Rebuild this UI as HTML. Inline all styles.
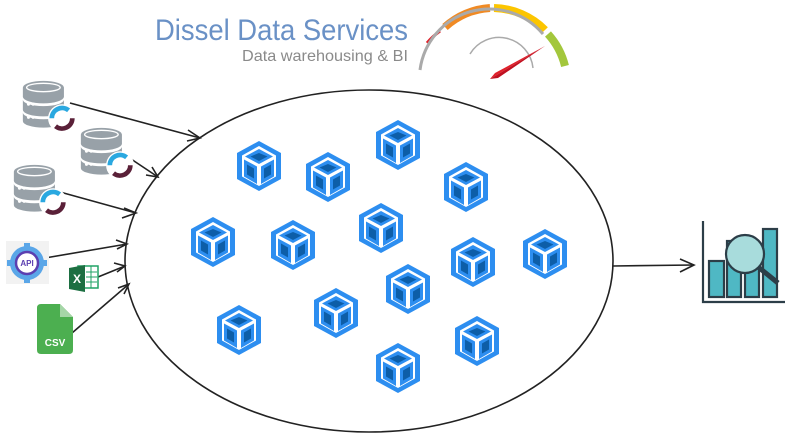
<!DOCTYPE html>
<html><head><meta charset="utf-8"><style>
html,body{margin:0;padding:0;background:#fff;width:799px;height:440px;overflow:hidden}
svg{display:block}
</style></head><body>
<svg width="799" height="440" viewBox="0 0 799 440" xmlns="http://www.w3.org/2000/svg">
<defs>
<symbol id="cube" viewBox="-24 -26 48 52" overflow="visible">
<polygon points="0,-25 22,-13 22,13 0,25 -22,13 -22,-13" fill="#2d8ef0"/>
<polygon points="0,-20 17,-10.5 17,10.5 0,20 -17,10.5 -17,-10.5" fill="#fff"/>
<polygon points="0,-17 14,-9.5 0,-2 -14,-9.5" fill="#2d8ef0"/>
<polygon points="0,-13 8.5,-9.5 0,-5 -8.5,-9.5" fill="#0d5ea8"/>
<polygon points="-15,-6.5 -2,0.5 -2,18 -15,10.5" fill="#2d8ef0"/>
<polygon points="-12,-1.5 -5,2.5 -5,12.5 -12,8.5" fill="#0d5ea8"/>
<polygon points="15,-6.5 2,0.5 2,18 15,10.5" fill="#2d8ef0"/>
<polygon points="12,-1.5 5,2.5 5,12.5 12,8.5" fill="#0d5ea8"/>
</symbol>
<symbol id="db" viewBox="0 0 60 60" overflow="visible">
<path d="M2,8 a22,7 0 0 1 44,0 v10 a22,7 0 0 1 -44,0z" fill="#98a1a8"/>
<ellipse cx="24" cy="8" rx="18" ry="4.5" fill="none" stroke="#fff" stroke-width="1.5"/>
<path d="M2,21 a22,7 0 0 0 44,0 v11 a22,7 0 0 1 -44,0z" fill="#98a1a8"/>
<path d="M2,35 a22,7 0 0 0 44,0 v9 a22,7 0 0 1 -44,0z" fill="#98a1a8"/>
<circle cx="8" cy="26" r="1.6" fill="#fff"/><circle cx="13" cy="26" r="1.6" fill="#fff"/>
<circle cx="8" cy="40" r="1.6" fill="#fff"/><circle cx="13" cy="40" r="1.6" fill="#fff"/>
<circle cx="44" cy="41" r="15" fill="#fff"/>
<path d="M33,41 a11,11 0 0 1 18,-8.5" fill="none" stroke="#2aa8e0" stroke-width="5"/>
<path d="M55,41 a11,11 0 0 1 -18,8.5" fill="none" stroke="#5a2038" stroke-width="5"/>
</symbol>
</defs>

<text x="155" y="40" font-family="'Liberation Sans Narrow','Liberation Sans',sans-serif" font-size="30" fill="#6a91c6" textLength="253" lengthAdjust="spacingAndGlyphs">Dissel Data Services</text>
<text x="242" y="61" font-family="'Liberation Sans Narrow','Liberation Sans',sans-serif" font-size="16" fill="#8a8a8a" textLength="166" lengthAdjust="spacingAndGlyphs">Data warehousing &amp; BI</text>

<g fill="none">
<path d="M427,43 A74,74 0 0 1 440,31" stroke="#e0202a" stroke-width="3"/>
<path d="M445,27 A74,74 0 0 1 490,8" stroke="#f08a24" stroke-width="8"/>
<path d="M494,8 A74,74 0 0 1 545,30" stroke="#fcc500" stroke-width="8"/>
<path d="M548,34 A74,74 0 0 1 565,66" stroke="#a3c73c" stroke-width="8"/>
<path d="M420,70 A70,70 0 0 1 543,34" stroke="#aaa" stroke-width="3"/>
<path d="M470,54 A34,34 0 0 1 533,68" stroke="#aaa" stroke-width="1.5"/>
</g>
<polygon points="490,79 495,73 545,46" fill="#e0202a"/>
<polygon points="490,79 498,78 545,46" fill="#c01020"/>

<ellipse cx="369" cy="261" rx="244" ry="171" fill="none" stroke="#222" stroke-width="1.6"/>

<g stroke="#222" stroke-width="1.6" fill="none">
<path d="M70,103 L200,138"/><path d="M188,130 L200,138 L187,141"/>
<path d="M125,155 L158,177"/><path d="M146,175 L158,177 L152,167"/>
<path d="M60,192 L136,213"/><path d="M124,208 L136,213 L122,218"/>
<path d="M45,258 L127,244"/><path d="M116,240 L127,244 L117,249"/>
<path d="M98,277 L125,266"/><path d="M114,263 L125,266 L117,272"/>
<path d="M72,333 L129,284"/><path d="M118,288 L129,284 L124,294"/>
<path d="M613,266 L694,265"/><path d="M680,259 L694,265 L680,272"/>
</g>

<use href="#db" x="21" y="80" width="56" height="56"/>
<use href="#db" x="79" y="127" width="56" height="56"/>
<use href="#db" x="12" y="164" width="56" height="56"/>
<rect x="6" y="241" width="43" height="43" fill="#f2f2f2"/>
<circle cx="27" cy="263" r="17" fill="#5aa6e8"/>
<g fill="#5aa6e8"><rect x="24" y="243" width="6" height="40"/><rect x="7" y="260" width="40" height="6"/></g>
<circle cx="27" cy="263" r="11" fill="#fff" stroke="#5b3fb0" stroke-width="2.5"/>
<text x="27" y="266" text-anchor="middle" font-family="'Liberation Sans',sans-serif" font-size="8" font-weight="bold" fill="#5b3fb0">API</text>
<rect x="78" y="266" width="20" height="22" fill="#fff" stroke="#21a366" stroke-width="1.5"/>
<path d="M86,272 H97 M86,277 H97 M86,282 H97 M91,266 V288" stroke="#21a366" stroke-width="1"/>
<polygon points="69,268 85,265 85,292 69,289" fill="#1d6f42"/>
<text x="77" y="283" text-anchor="middle" font-family="'Liberation Sans',sans-serif" font-size="12" font-weight="bold" fill="#fff">X</text>
<path d="M41,304 H60 L73,317 V350 Q73,354 69,354 H41 Q37,354 37,350 V308 Q37,304 41,304z" fill="#4caf50"/>
<path d="M60,304 V317 H73z" fill="#a5d6a7"/>
<text x="55" y="346" text-anchor="middle" font-family="'Liberation Sans',sans-serif" font-size="10" font-weight="bold" fill="#fff">CSV</text>

<g stroke="#2c3e48" stroke-width="2.2">
<path d="M703,221 V302 H785" fill="none"/>
<rect x="709" y="261" width="15" height="36" fill="#4fb8c4"/>
<rect x="727" y="241" width="14" height="56" fill="#4fb8c4"/>
<rect x="745" y="262" width="14" height="35" fill="#4fb8c4"/>
<rect x="763" y="229" width="14" height="68" fill="#4fb8c4"/>
<line x1="757" y1="266" x2="778" y2="283" stroke-width="5"/>
<circle cx="745" cy="254" r="19" fill="#a8dcdc"/>
</g>

<g>
<use href="#cube" x="235" y="140" width="48" height="52"/>
<use href="#cube" x="304" y="151" width="48" height="52"/>
<use href="#cube" x="374" y="119" width="48" height="52"/>
<use href="#cube" x="442" y="161" width="48" height="52"/>
<use href="#cube" x="189" y="216" width="48" height="52"/>
<use href="#cube" x="269" y="219" width="48" height="52"/>
<use href="#cube" x="357" y="202" width="48" height="52"/>
<use href="#cube" x="449" y="236" width="48" height="52"/>
<use href="#cube" x="521" y="228" width="48" height="52"/>
<use href="#cube" x="384" y="263" width="48" height="52"/>
<use href="#cube" x="312" y="287" width="48" height="52"/>
<use href="#cube" x="215" y="304" width="48" height="52"/>
<use href="#cube" x="453" y="315" width="48" height="52"/>
<use href="#cube" x="374" y="342" width="48" height="52"/>
</g>
</svg>
</body></html>
